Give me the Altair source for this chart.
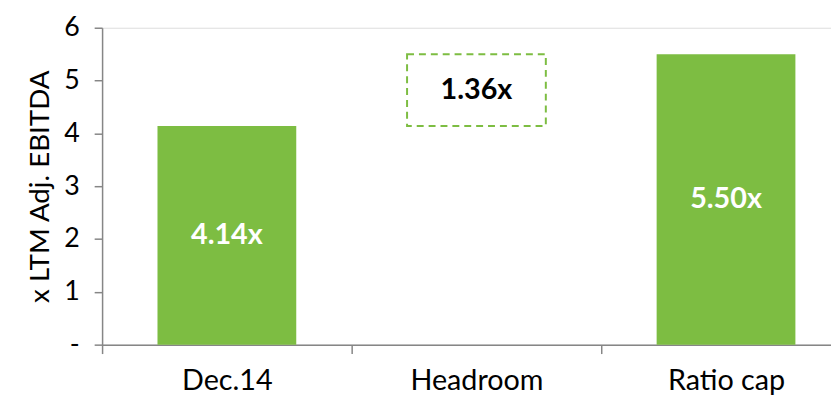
import altair as alt
import pandas as pd

categories = ["Dec.14", "Headroom", "Ratio cap"]
lows = [0.0, 4.14, 0.0]
highs = [4.14, 5.50, 5.50]
kinds = ["level", "headroom", "level"]
labels = ["4.14x", "1.36x", "5.50x"]

df = pd.DataFrame({
    "category": categories,
    "low": lows,
    "high": highs,
    "kind": kinds,
    "label": labels,
})
df["mid"] = (df["low"] + df["high"]) / 2

GREEN = "#7DBD42"
FONT = "Lato"

x = alt.X(
    "category:N",
    sort=categories,
    scale=alt.Scale(paddingInner=0, paddingOuter=0),
    axis=alt.Axis(
        title=None,
        labelAngle=0,
        labelFont=FONT,
        labelFontSize=29,
        labelColor="black",
        labelPadding=13,
        tickBand="extent",
        tickSize=9,
        tickColor="#868686",
        domainColor="#868686",
        domainWidth=1.5,
        tickWidth=1.5,
        grid=False,
    ),
)

y_scale = alt.Scale(domain=[0, 6], nice=False)

base = alt.Chart(df)

solid = base.transform_filter(alt.datum.kind == "level").mark_bar(
    color=GREEN, width=alt.RelativeBandSize(0.556)
).encode(
    x=x,
    y=alt.Y(
        "low:Q",
        scale=y_scale,
        axis=alt.Axis(
            values=[0, 1, 2, 3, 4, 5, 6],
            labelExpr="datum.value == 0 ? '-' : datum.label",
            labelFont=FONT,
            labelFontSize=27,
            labelColor="black",
            labelPadding=15,
            tickSize=8,
            tickColor="#868686",
            domainColor="#868686",
            domainWidth=1.5,
            tickWidth=1.5,
            grid=False,
            title="x LTM Adj. EBITDA",
            titleFont=FONT,
            titleFontSize=28,
            titleFontWeight="normal",
            titleColor="black",
            titlePadding=9,
        ),
    ),
    y2="high:Q",
)

dashed = base.transform_filter(alt.datum.kind == "headroom").mark_bar(
    fill="white",
    stroke=GREEN,
    strokeWidth=2,
    strokeDash=[7, 5],
    width=alt.RelativeBandSize(0.556),
).encode(x=x, y=alt.Y("low:Q", scale=y_scale), y2="high:Q")

text = base.mark_text(
    font=FONT, fontSize=29, fontWeight="bold", baseline="middle", align="center"
).encode(
    x=x,
    y=alt.Y("mid:Q", scale=y_scale),
    text="label:N",
    color=alt.condition(alt.datum.kind == "headroom", alt.value("black"), alt.value("white")),
)

chart = (
    alt.layer(solid, dashed, text)
    .properties(
        width=756,
        height=320,
        autosize=alt.AutoSizeParams(type="none"),
        padding={"left": 95, "top": 18, "right": -20, "bottom": 58},
    )
    .configure_view(stroke=None)
    .configure(background="white")
)

chart.save("out.html", embed_options={"renderer": "svg", "actions": False})
